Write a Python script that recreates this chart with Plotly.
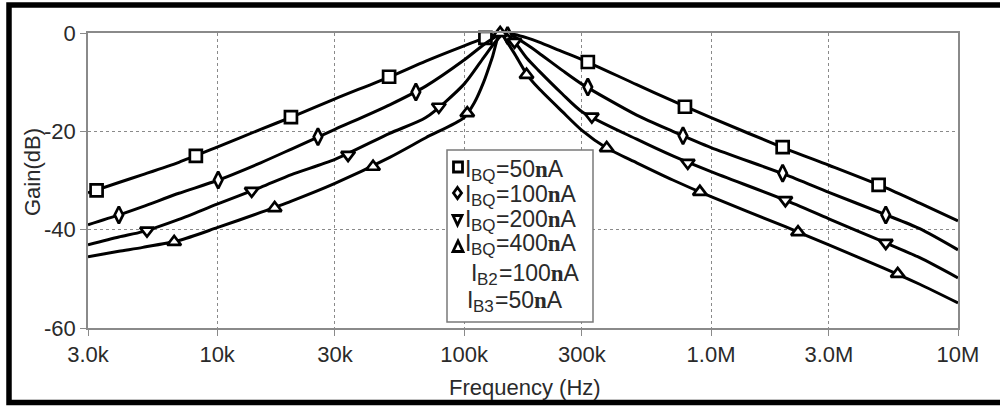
import plotly.graph_objects as go

# ---------------- data ----------------
freq_50 = [3e3, 4e3, 5e3, 7e3, 1e4, 1.5e4, 2e4, 3e4, 5e4, 7e4, 1e5, 1.2e5, 1.35e5, 1.46e5,
           1.6e5, 1.8e5, 2e5, 2.5e5, 3e5, 5e5, 7e5, 1e6, 2e6, 3e6, 5e6, 7e6, 1e7]
gain_50 = [-32.5, -30.4, -28.8, -26.3, -23.2, -19.6, -17.1, -13.4, -8.9, -5.7, -2.6, -1.1, -0.3, 0.0,
           -0.3, -1.0, -1.8, -3.8, -5.4, -10.5, -13.8, -17.2, -23.5, -26.9, -31.3, -34.6, -38.2]
mk_freq_50 = [3.25e3, 8.2e3, 1.99e4, 4.97e4, 1.22e5, 3.17e5, 7.84e5, 1.95e6, 4.77e6]
mk_gain_50 = [-32.0, -25.0, -17.1, -8.9, -1.0, -5.9, -15.0, -23.2, -30.9]

freq_100 = [3e3, 4e3, 5e3, 7e3, 1e4, 1.5e4, 2e4, 3e4, 5e4, 7e4, 1e5, 1.2e5, 1.35e5, 1.46e5,
            1.6e5, 1.8e5, 2e5, 2.5e5, 3e5, 5e5, 7e5, 1e6, 2e6, 3e6, 5e6, 7e6, 1e7]
gain_100 = [-39.0, -37.0, -35.3, -32.6, -30.0, -26.4, -23.6, -19.6, -14.6, -10.8, -5.5, -2.4, -0.7, 0.0,
            -0.8, -2.4, -4.0, -7.6, -10.4, -16.7, -20.0, -23.3, -28.8, -32.4, -36.8, -39.8, -44.1]
mk_freq_100 = [4.0e3, 1.01e4, 2.56e4, 6.38e4, 1.5e5, 3.17e5, 7.7e5, 1.95e6, 5.1e6]
mk_gain_100 = [-37.0, -29.9, -21.1, -12.0, -0.5, -11.0, -20.9, -28.5, -37.0]

freq_200 = [3e3, 4e3, 5e3, 7e3, 1e4, 1.5e4, 2e4, 3e4, 5e4, 7e4, 1e5, 1.2e5, 1.35e5, 1.46e5,
            1.6e5, 1.8e5, 2e5, 2.5e5, 3e5, 5e5, 7e5, 1e6, 2e6, 3e6, 5e6, 7e6, 1e7]
gain_200 = [-43.1, -41.5, -40.4, -37.9, -34.8, -31.4, -28.8, -25.7, -20.4, -17.2, -10.4, -5.0, -1.6, 0.0,
            -1.8, -5.2, -7.6, -12.4, -16.0, -21.6, -25.0, -28.2, -34.0, -37.8, -42.5, -45.7, -49.8]
mk_freq_200 = [5.2e3, 1.38e4, 3.39e4, 7.9e4, 1.6e5, 3.29e5, 8.05e5, 2.0e6, 5.1e6]
mk_gain_200 = [-40.2, -32.1, -24.8, -15.0, -1.8, -17.0, -26.4, -34.0, -42.7]

freq_400 = [3e3, 4e3, 5e3, 7e3, 1e4, 1.5e4, 2e4, 3e4, 5e4, 7e4, 1e5, 1.1e5, 1.2e5, 1.3e5, 1.4e5,
            1.5e5, 1.6e5, 1.8e5, 2e5, 2.5e5, 3e5, 3.78e5, 5e5, 7e5, 1e6, 2e6, 3e6, 5e6, 7e6, 1e7]
gain_400 = [-45.5, -44.4, -43.6, -42.2, -39.6, -36.5, -34.2, -30.6, -25.3, -21.3, -17.2, -14.2, -10.0, -5.0, 0.0,
            -2.0, -4.2, -8.5, -11.2, -16.0, -19.8, -23.4, -26.4, -29.9, -33.3, -39.4, -43.1, -47.8, -51.1, -54.9]
mk_freq_400 = [6.7e3, 1.71e4, 4.28e4, 1.03e5, 1.4e5, 1.79e5, 3.78e5, 9.01e5, 2.25e6, 5.7e6]
mk_gain_400 = [-42.5, -35.6, -27.2, -16.3, 0.0, -8.5, -23.4, -32.3, -40.5, -49.0]

series_names = ["I_BQ=50nA", "I_BQ=100nA", "I_BQ=200nA", "I_BQ=400nA"]
x_tickvals = [3e3, 1e4, 3e4, 1e5, 3e5, 1e6, 3e6, 1e7]
x_ticktext = ["3.0k", "10k", "30k", "100k", "300k", "1.0M", "3.0M", "10M"]
y_tickvals = [0, -20, -40, -60]
y_ticktext = ["0", "-20", "-40", "-60"]
# legend rows: (subscript, value)
legend_rows = [("BQ", "50"), ("BQ", "100"), ("BQ", "200"), ("BQ", "400"), ("B2", "100"), ("B3", "50")]

# ---------------- layout geometry ----------------
W, H = 1000, 407
ML, MR, MT, MB = 88, 42, 33, 79
PW, PH = W - ML - MR, H - MT - MB


def px(x):
    return (x - ML) / PW


def py(y):
    return (H - MB - y) / PH


FONT = "Liberation Sans"
TXT = "#2a2a2a"
GRID = "#8a8a8a"
FS = 22
LFS = 23
SUBFS = 17
# Arial/Liberation Sans advance widths (em) for width estimates
ADV = {"I": 0.278, "B": 0.667, "Q": 0.778, "2": 0.556, "3": 0.556}

fig = go.Figure()

curves = [
    (freq_50, gain_50, mk_freq_50, mk_gain_50, "square"),
    (freq_100, gain_100, mk_freq_100, mk_gain_100, "diamond-tall"),
    (freq_200, gain_200, mk_freq_200, mk_gain_200, "triangle-down"),
    (freq_400, gain_400, mk_freq_400, mk_gain_400, "triangle-up"),
]
for (f, g, mf, mg, sym), name in zip(curves, series_names):
    fig.add_trace(go.Scatter(x=f, y=g, mode="lines", name=name, showlegend=False,
                             line=dict(color="black", width=3, shape="spline", smoothing=0.7)))
    fig.add_trace(go.Scatter(x=mf, y=mg, mode="markers", name=name, showlegend=False, cliponaxis=False,
                             marker=dict(symbol=sym, size=12, color="white",
                                         line=dict(color="black", width=2.7))))

fig.update_xaxes(type="log", range=[3.4771, 7.0], tickvals=x_tickvals, ticktext=x_ticktext,
                 showline=True, mirror=True, linecolor=GRID, linewidth=1.5,
                 showgrid=True, gridcolor=GRID, griddash="dot", gridwidth=1,
                 ticks="outside", ticklen=6, tickcolor=GRID,
                 tickfont=dict(family=FONT, size=FS, color=TXT), zeroline=False)
fig.update_yaxes(range=[-60, 0], tickvals=y_tickvals, ticktext=y_ticktext,
                 showline=True, mirror=True, linecolor=GRID, linewidth=1.5,
                 showgrid=True, gridcolor=GRID, griddash="dot", gridwidth=1,
                 ticks="outside", ticklen=6, tickcolor=GRID,
                 tickfont=dict(family=FONT, size=FS, color=TXT), zeroline=False)

shapes = []
# outer black frame
shapes.append(dict(type="rect", xref="paper", yref="paper",
                   x0=px(9), x1=px(1004), y0=py(402.5), y1=py(5),
                   line=dict(color="black", width=5.5), fillcolor="rgba(0,0,0,0)", layer="above"))
# legend box
shapes.append(dict(type="rect", xref="paper", yref="paper",
                   x0=px(447), x1=px(593), y0=py(322), y1=py(150),
                   line=dict(color="#7a7a7a", width=1.5), fillcolor="white", layer="above"))


def path(points):
    return "M " + " L ".join(f"{px(x):.5f},{py(y):.5f}" for x, y in points) + " Z"


sym_style = dict(xref="paper", yref="paper", line=dict(color="black", width=2.8),
                 fillcolor="white", layer="above")
shapes.append(dict(type="rect", x0=px(453.5), x1=px(462.5), y0=py(172), y1=py(162), **sym_style))
shapes.append(dict(type="path", path=path([(457.5, 187.5), (461.5, 193), (457.5, 198.5), (453.5, 193)]), **sym_style))
shapes.append(dict(type="path", path=path([(453, 215.5), (462, 215.5), (457.5, 225)]), **sym_style))
shapes.append(dict(type="path", path=path([(453, 251.5), (463, 251.5), (458, 241)]), **sym_style))

annotations = []
row_y = [168, 193, 218, 242, 272, 299]
row_x = [464, 464, 464, 464, 470, 466]
nb = f'<span style="font-family:Liberation Serif;font-weight:bold;font-size:{LFS}px">n</span>'


def ann(x, y, text, size, **kw):
    d = dict(xref="paper", yref="paper", x=px(x), y=py(y), text=text, showarrow=False,
             xanchor="left", yanchor="middle", borderpad=0,
             font=dict(family=FONT, size=size, color=TXT))
    d.update(kw)
    return d


for (s, v), x, y in zip(legend_rows, row_x, row_y):
    w_i = ADV["I"] * LFS
    w_s = sum(ADV[c] for c in s) * SUBFS
    annotations.append(ann(x, y + 1, "I", LFS))
    annotations.append(ann(x + w_i, y + 7, s, SUBFS))
    annotations.append(ann(x + w_i + w_s + 0.5, y + 1, f"={v}{nb}A", LFS))

annotations.append(ann(525, 387, "Frequency (Hz)", FS, xanchor="center"))
annotations.append(ann(32, 172, "Gain(dB)", FS, xanchor="center", textangle=-90))

fig.update_layout(width=W, height=H, margin=dict(l=ML, r=MR, t=MT, b=MB, pad=0),
                  paper_bgcolor="white", plot_bgcolor="white", showlegend=False,
                  shapes=shapes, annotations=annotations)

fig.write_html("out.html", config={"displayModeBar": False},
               post_script="document.body.style.margin='0';document.body.style.overflow='hidden';")
